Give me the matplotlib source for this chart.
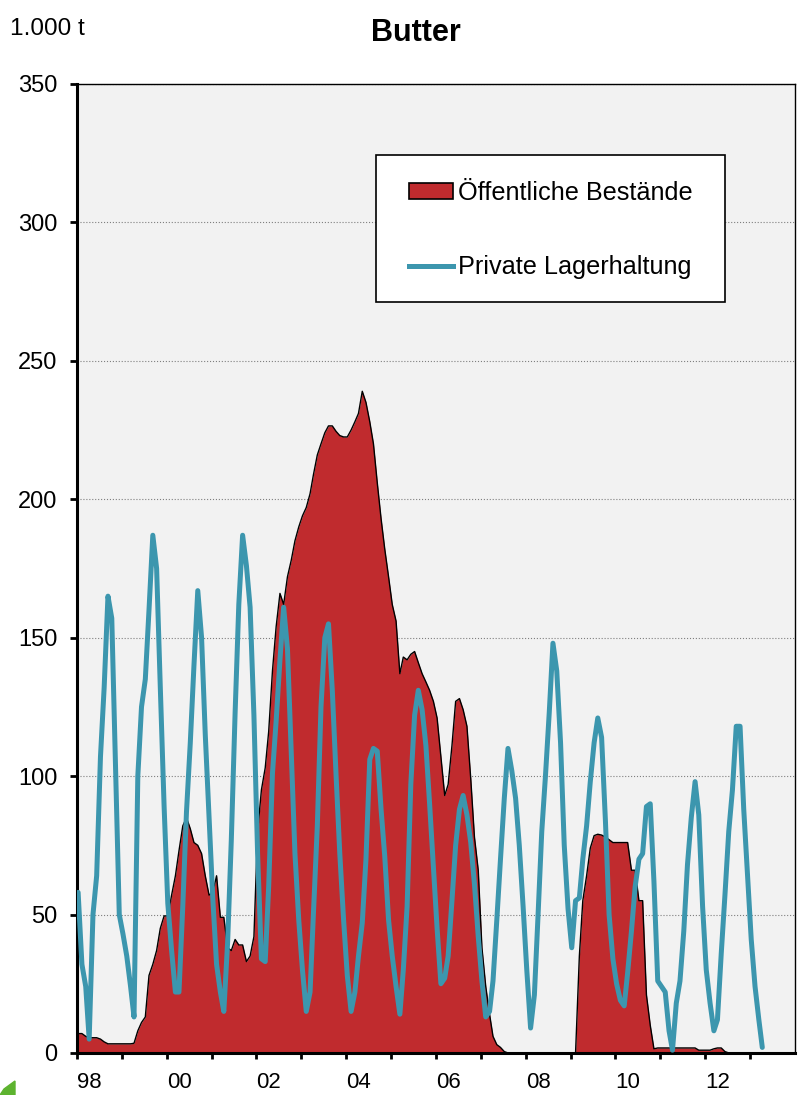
import matplotlib.pyplot as plt
import numpy as np
import pandas as pd
from matplotlib.lines import Line2D
from matplotlib.patches import Patch, Polygon, Rectangle

plt.rcParams['font.family'] = ['Liberation Sans', 'DejaVu Sans']

RED = '#C02B2E'
BLUE = '#3C96AE'

# monthly values, Dec 1997 .. Mar 2013 (1.000 t), plotted a bit after month start
months = pd.date_range('1997-12-01', '2013-03-01', freq='MS') + pd.Timedelta(days=40)

public = [
    7,
    7, 6, 5.5, 5.5, 5.5, 5, 4, 3.3, 3.3, 3.3, 3.3, 3.3,            # 1998
    3.3, 3.3, 3.5, 8, 11, 13, 28, 32, 37, 45, 49.5, 49.5,          # 1999
    57, 64, 73, 82, 85, 81, 76, 75, 72, 64, 57, 58,                # 2000
    64, 49, 49, 38, 37, 41, 39, 39, 33, 35, 42, 80,                # 2001
    95, 103, 116, 138, 154, 166, 162, 172, 178, 185, 190, 194,     # 2002
    197, 202, 209, 216, 220, 224, 226.5, 226.5, 224.5, 223, 222.5, 222.5,  # 2003
    225, 228, 231, 239, 235, 228, 220, 206, 193, 182, 172, 162,    # 2004
    156, 137, 143, 142, 144, 145, 141, 137, 134, 131, 127, 121,    # 2005
    107, 93, 97, 111, 127, 128, 124, 118, 99, 78, 66, 38,          # 2006
    24, 14, 6, 3, 2, 0.5, 0, 0, 0, 0, 0, 0,                        # 2007
    0, 0, 0, 0, 0, 0, 0, 0, 0, 0, 0, 0,                            # 2008
    0, 35, 55, 64, 74, 78.5, 79, 78.7, 78, 77, 76, 76,             # 2009
    76, 76, 76, 66, 66, 55, 55, 21, 10, 1.5, 1.8, 1.8,             # 2010
    1.8, 1.8, 1.8, 1.8, 1.8, 1.8, 1.8, 1.8, 1.8, 1, 1, 1,          # 2011
    1, 1.5, 1.8, 1.8, 0.5, 0, 0, 0, 0, 0, 0, 0,                    # 2012
    0, 0, 0,                                                       # 2013
]

private = [
    58,
    32, 24, 5, 50, 64, 107, 132, 165, 157, 105, 50, 43,            # 1998
    35, 24, 13, 100, 125, 135, 160, 187, 175, 132, 89, 54,         # 1999
    37, 22, 22, 53, 87, 112, 140, 167, 150, 115, 85, 56,           # 2000
    32, 22, 15, 40, 77, 123, 162, 187, 176, 161, 122, 72,          # 2001
    34, 33, 60, 101, 120, 142, 161, 146, 108, 72, 48, 30,          # 2002
    15, 22, 51, 82, 125, 150, 155, 131, 100, 72, 48, 28,           # 2003
    15, 22, 35, 47, 70, 106, 110, 109, 88, 71, 48, 35,             # 2004
    24, 14, 30, 53, 97, 122, 131, 124, 111, 90, 67, 45,            # 2005
    25, 27, 35, 55, 75, 88, 93, 86, 76, 61, 42, 26,                # 2006
    13, 15, 26, 48, 70, 92, 110, 102, 92, 75, 53, 30,              # 2007
    9, 21, 49, 80, 100, 123, 148, 138, 112, 75, 52, 38,            # 2008
    55, 56, 70, 82, 98, 112, 121, 114, 84, 50, 34, 25,             # 2009
    19, 17, 29, 44, 60, 70, 72, 89, 90, 62, 26, 24,                # 2010
    22, 8, 1, 18, 26, 44, 68, 85, 98, 86, 53, 30,                  # 2011
    18, 8, 12, 36, 57, 80, 95, 118, 118, 88, 64, 41,               # 2012
    24, 12, 2,                                                     # 2013
]

years = pd.date_range('1998-01-01', '2013-01-01', freq='YS')
year_labels = [f'{y % 100:02d}' if y % 2 == 0 else '' for y in years.year]

fig = plt.figure(figsize=(7.98, 10.95), dpi=100)
ax = fig.add_axes([0.0965, 0.0384, 0.8997, 0.8849])
ax.set_facecolor('#F2F2F2')

ax.fill_between(months, public, 0, color=RED, lw=0, zorder=2)
ax.plot(months, public, color='black', lw=1.0, zorder=3)
ax.plot(months, private, color=BLUE, lw=3.6, zorder=4,
        solid_joinstyle='round', solid_capstyle='round')

ax.set_xlim(pd.Timestamp('1998-01-01'), pd.Timestamp('2014-01-01'))
ax.set_ylim(0, 350)
ax.set_xticks(years)
ax.set_xticklabels(year_labels, ha='left')
ax.set_yticks(np.arange(0, 351, 50))
ax.yaxis.grid(True, linestyle=':', color='#7f7f7f', lw=0.8, zorder=1)

for side in ['left', 'bottom']:
    ax.spines[side].set_linewidth(2.2)
for side in ['top', 'right']:
    ax.spines[side].set_linewidth(1.0)
ax.tick_params(axis='y', direction='out', length=5, width=2, labelsize=17, pad=9)
ax.tick_params(axis='x', direction='out', length=4, width=2, labelsize=16, pad=10)

# legend box drawn separately so the padding matches the original
ax.add_patch(Rectangle((0.4164, 0.775), 0.4861, 0.1517, transform=ax.transAxes,
                       facecolor='white', edgecolor='black', lw=1.2, zorder=5))
handles = [
    Patch(facecolor=RED, edgecolor='black', lw=1.2, label='Öffentliche Bestände'),
    Line2D([], [], color=BLUE, lw=3.6, label='Private Lagerhaltung'),
]
leg = ax.legend(handles=handles, loc='upper left', bbox_to_anchor=(0.4624, 0.9000),
                fontsize=18.2, frameon=False, borderpad=0, labelspacing=2.0,
                handlelength=1.75, handleheight=0.65, handletextpad=0.2,
                borderaxespad=0)
leg.set_zorder(6)

fig.text(416 / 798, 1 - 33 / 1095, 'Butter', ha='center', va='center',
         fontsize=22, fontweight='bold')
fig.text(10 / 798, 1 - 29 / 1095, '1.000 t', ha='left', va='center', fontsize=17.6)

# small green corner mark at the bottom left
fig.patches.append(Polygon([(0, 0), (15 / 798, 0), (15 / 798, 14 / 1095), (4 / 798, 6 / 1095)],
                           closed=True, transform=fig.transFigure, color='#5DB32F'))

fig.savefig('out.png', dpi=100)
